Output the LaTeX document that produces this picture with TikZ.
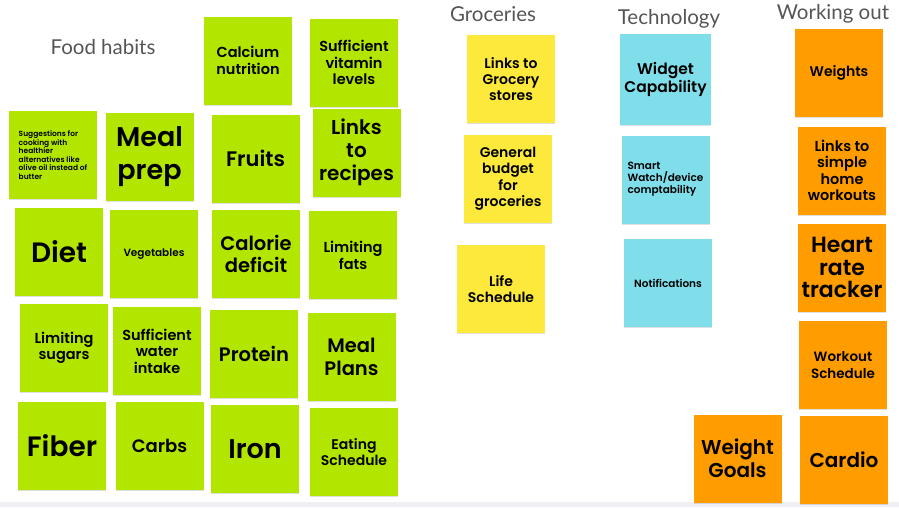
\documentclass[tikz,border=0pt]{standalone}
\usepackage{fontspec}
\usepackage{xcolor}
\usepackage{tikz}
\usetikzlibrary{shadows}
\newfontfamily\notefont{Poppins SemiBold}
\newfontfamily\titlefont{Lato}
\definecolor{notegreen}{HTML}{B2E600}
\definecolor{noteyellow}{HTML}{FDE93C}
\definecolor{noteblue}{HTML}{80DEEA}
\definecolor{noteorange}{HTML}{FF9C00}
\definecolor{titlegray}{HTML}{555555}
\definecolor{bandgray}{HTML}{EEF0F3}
\begin{document}
\begin{tikzpicture}[x=1pt, y=-1pt,
    sticky/.style={minimum width=88pt, minimum height=88pt, inner sep=3pt, align=center,
      drop shadow={shadow xshift=0pt, shadow yshift=-1.2pt, opacity=0.25}},
    fs/.style 2 args={font=\notefont\fontsize{#1}{#2}\selectfont},
    food/.style={sticky, fill=notegreen},
    grocery/.style={sticky, fill=noteyellow},
    tech/.style={sticky, fill=noteblue},
    workout/.style={sticky, fill=noteorange},
    heading/.style={font=\titlefont\fontsize{20.5}{24}\selectfont, text=titlegray}]
  \useasboundingbox (0,0) rectangle (899,507);
  \fill[bandgray] (0,502) rectangle (899,507);

  % headings
  \node[heading] (foodhead) at (103,47) {Food habits};
  \node[heading] (grochead) at (493,14) {Groceries};
  \node[heading] (techhead) at (669,19) {Technology};
  \node[heading] (workhead) at (833,14) {Working out};

  % food habits
  \node[food, fs={14.5}{17}] (calcium) at (248,60.5) {Calcium\\nutrition};
  \node[food, fs={14.5}{16.5}] (vitamin) at (354,62.5) {Sufficient\\vitamin\\levels};
  \node[food, fs={7.5}{8.5}, align=left] (suggest) at (53,155) {Suggestions for\\cooking with\\healthier\\alternatives like\\olive oil instead of\\butter};
  \node[food, fs={27}{33}] (mealprep) at (149.5,156.5) {Meal\\prep};
  \node[food, fs={21}{25}] (fruits) at (255.5,158.5) {Fruits};
  \node[food, fs={20}{23}] (recipes) at (356.5,152.5) {Links\\to\\recipes};
  \node[food, fs={28}{33}] (diet) at (59,252) {Diet};
  \node[food, fs={10.5}{12}] (veg) at (154,254) {Vegetables};
  \node[food, fs={19.5}{22}] (calorie) at (256,253.5) {Calorie\\deficit};
  \node[food, fs={14.5}{17}] (fats) at (353,255) {Limiting\\fats};
  \node[food, fs={14.5}{16.5}] (sugars) at (64,348) {Limiting\\sugars};
  \node[food, fs={14.5}{16.5}] (water) at (157,351) {Sufficient\\water\\intake};
  \node[food, fs={19.5}{23}] (protein) at (254,354) {Protein};
  \node[food, fs={19.5}{23}] (mealplans) at (351.5,357) {Meal\\Plans};
  \node[food, fs={28}{33}] (fiber) at (62,446) {Fiber};
  \node[food, fs={18}{21}] (carbs) at (159.5,446) {Carbs};
  \node[food, fs={27}{32}] (iron) at (255,449) {Iron};
  \node[food, fs={14}{15.5}] (eating) at (354,452) {Eating\\Schedule};

  % groceries
  \node[grocery, fs={14}{16}] (stores) at (511,79) {Links to\\Grocery\\stores};
  \node[grocery, fs={14}{16.5}] (budget) at (508,178.5) {General\\budget\\for\\groceries};
  \node[grocery, fs={14}{16}] (life) at (501,289) {Life\\Schedule};

  % technology
  \node[tech, fs={15.5}{17.5}, minimum width=91pt, minimum height=91pt] (widget) at (665.5,79.5) {Widget\\Capability};
  \node[tech, fs={10.5}{12}, align=left] (smart) at (665.5,179.5) {Smart\\Watch/device\\comptability};
  \node[tech, fs={10.5}{12}] (notif) at (668,283) {Notifications};

  % working out
  \node[workout, fs={14}{16}] (weights) at (839,73) {Weights};
  \node[workout, fs={14.5}{16.5}] (homework) at (842,170.5) {Links to\\simple\\home\\workouts};
  \node[workout, fs={22}{22.5}] (heart) at (842,267.5) {Heart\\rate\\tracker};
  \node[workout, fs={13.5}{16.5}] (schedule) at (843,365) {Workout\\Schedule};
  \node[workout, fs={20}{23}] (goals) at (737.5,458.5) {Weight\\Goals};
  \node[workout, fs={20}{23}] (cardio) at (844,459.5) {Cardio};
\end{tikzpicture}
\end{document}
